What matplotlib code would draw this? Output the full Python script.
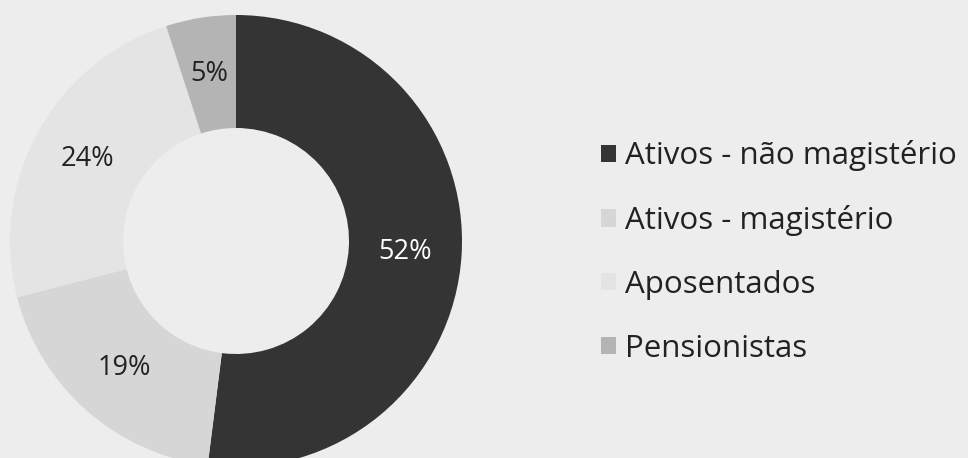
import matplotlib.pyplot as plt

# share of payroll by category
categories = ['Ativos - não magistério', 'Ativos - magistério', 'Aposentados', 'Pensionistas']
shares = [52, 19, 24, 5]
colors = ['#343434', '#d6d6d6', '#e4e4e4', '#b4b4b4']
label_colors = ['white', '#222222', '#222222', '#222222']

bg = '#ededed'

fig = plt.figure(figsize=(9.68, 4.58), dpi=100, facecolor=bg)
ax = fig.add_axes([0, 0, 1, 1])
ax.set_facecolor(bg)

wedges, texts, autotexts = ax.pie(
    shares, colors=colors, startangle=90, counterclock=False,
    center=(236, 217), radius=226, frame=True,
    autopct='%d%%', pctdistance=0.75,
    wedgeprops=dict(width=113, linewidth=0),
    textprops=dict(fontsize=19.5, family='Open Sans'))
for t, c in zip(autotexts, label_colors):
    t.set_color(c)

# axes in pixel units so the ring can run off the canvas edge
ax.set_xlim(0, 968)
ax.set_ylim(0, 458)
ax.set_aspect('equal')
ax.axis('off')

fig.legend(wedges, categories, loc='center left',
           bbox_to_anchor=(601 / 968, 206 / 458),
           frameon=False, borderpad=0, borderaxespad=0,
           handlelength=0.48, handleheight=0.48, handletextpad=0.28,
           labelspacing=1.08,
           prop=dict(family='Open Sans', size=22.5), labelcolor='#222222')

fig.savefig('out.png', dpi=100, facecolor=bg)
